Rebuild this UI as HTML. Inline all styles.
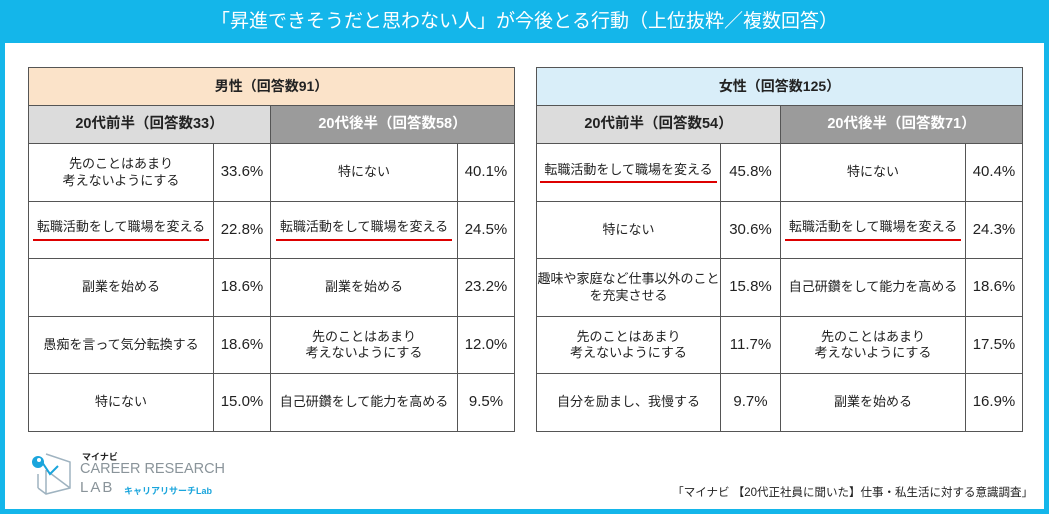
<!DOCTYPE html><html><head><meta charset="utf-8"><style>
*{margin:0;padding:0;box-sizing:border-box}
body{width:1049px;height:514px;overflow:hidden;background:#fff;font-family:"Liberation Sans","Noto Sans CJK JP",sans-serif;position:relative}
.frame{position:absolute;left:0;top:0;width:1049px;height:514px;border:5px solid #14b6ea;border-top:none}
.title{position:absolute;left:0;top:0;width:1049px;height:43px;background:#14b6ea;color:#fff;font-size:19px;text-align:center;line-height:43px}
.c{position:absolute;border:1px solid #555;display:flex;align-items:center;justify-content:center;text-align:center;font-size:13px;color:#222;line-height:1.25}
.h1{font-size:14px;font-weight:bold}
.h2{font-size:14.5px;font-weight:bold}
.p{font-size:15px}
.u{border-bottom:2px solid #d00;padding:0 4px 3px}
</style></head><body>
<div class="title">「昇進できそうだと思わない人」が今後とる行動（上位抜粋／複数回答）</div>
<div class="frame"></div>

<div class="c h1" style="left:28px;top:67px;width:487px;height:39px;background:#fbe3c9">男性（回答数91）</div>
<div class="c h2" style="left:28px;top:105px;width:243px;height:39px;background:#dcdcdc">20代前半（回答数33）</div>
<div class="c h2" style="left:270px;top:105px;width:245px;height:39px;background:#9b9b9b;color:#fff">20代後半（回答数58）</div>

<div class="c h1" style="left:536px;top:67px;width:487px;height:39px;background:#d9eef9">女性（回答数125）</div>
<div class="c h2" style="left:536px;top:105px;width:245px;height:39px;background:#dcdcdc">20代前半（回答数54）</div>
<div class="c h2" style="left:780px;top:105px;width:243px;height:39px;background:#9b9b9b;color:#fff">20代後半（回答数71）</div>

<div class="c" style="left:28px;top:143px;width:186px;height:59px">先のことはあまり<br>考えないようにする</div><div class="c p" style="left:213px;top:143px;width:58px;height:59px">33.6%</div>
<div class="c" style="left:28px;top:201px;width:186px;height:58px"><span class="u">転職活動をして職場を変える</span></div><div class="c p" style="left:213px;top:201px;width:58px;height:58px">22.8%</div>
<div class="c" style="left:28px;top:258px;width:186px;height:59px">副業を始める</div><div class="c p" style="left:213px;top:258px;width:58px;height:59px">18.6%</div>
<div class="c" style="left:28px;top:316px;width:186px;height:58px">愚痴を言って気分転換する</div><div class="c p" style="left:213px;top:316px;width:58px;height:58px">18.6%</div>
<div class="c" style="left:28px;top:373px;width:186px;height:59px">特にない</div><div class="c p" style="left:213px;top:373px;width:58px;height:59px">15.0%</div>

<div class="c" style="left:270px;top:143px;width:188px;height:59px">特にない</div><div class="c p" style="left:457px;top:143px;width:58px;height:59px">40.1%</div>
<div class="c" style="left:270px;top:201px;width:188px;height:58px"><span class="u">転職活動をして職場を変える</span></div><div class="c p" style="left:457px;top:201px;width:58px;height:58px">24.5%</div>
<div class="c" style="left:270px;top:258px;width:188px;height:59px">副業を始める</div><div class="c p" style="left:457px;top:258px;width:58px;height:59px">23.2%</div>
<div class="c" style="left:270px;top:316px;width:188px;height:58px">先のことはあまり<br>考えないようにする</div><div class="c p" style="left:457px;top:316px;width:58px;height:58px">12.0%</div>
<div class="c" style="left:270px;top:373px;width:188px;height:59px">自己研鑽をして能力を高める</div><div class="c p" style="left:457px;top:373px;width:58px;height:59px">9.5%</div>

<div class="c" style="left:536px;top:143px;width:185px;height:59px"><span class="u">転職活動をして職場を変える</span></div><div class="c p" style="left:720px;top:143px;width:61px;height:59px">45.8%</div>
<div class="c" style="left:536px;top:201px;width:185px;height:58px">特にない</div><div class="c p" style="left:720px;top:201px;width:61px;height:58px">30.6%</div>
<div class="c" style="left:536px;top:258px;width:185px;height:59px">趣味や家庭など仕事以外のこと<br>を充実させる</div><div class="c p" style="left:720px;top:258px;width:61px;height:59px">15.8%</div>
<div class="c" style="left:536px;top:316px;width:185px;height:58px">先のことはあまり<br>考えないようにする</div><div class="c p" style="left:720px;top:316px;width:61px;height:58px">11.7%</div>
<div class="c" style="left:536px;top:373px;width:185px;height:59px">自分を励まし、我慢する</div><div class="c p" style="left:720px;top:373px;width:61px;height:59px">9.7%</div>

<div class="c" style="left:780px;top:143px;width:186px;height:59px">特にない</div><div class="c p" style="left:965px;top:143px;width:58px;height:59px">40.4%</div>
<div class="c" style="left:780px;top:201px;width:186px;height:58px"><span class="u">転職活動をして職場を変える</span></div><div class="c p" style="left:965px;top:201px;width:58px;height:58px">24.3%</div>
<div class="c" style="left:780px;top:258px;width:186px;height:59px">自己研鑽をして能力を高める</div><div class="c p" style="left:965px;top:258px;width:58px;height:59px">18.6%</div>
<div class="c" style="left:780px;top:316px;width:186px;height:58px">先のことはあまり<br>考えないようにする</div><div class="c p" style="left:965px;top:316px;width:58px;height:58px">17.5%</div>
<div class="c" style="left:780px;top:373px;width:186px;height:59px">副業を始める</div><div class="c p" style="left:965px;top:373px;width:58px;height:59px">16.9%</div>

<svg style="position:absolute;left:28px;top:448px" width="50" height="50" viewBox="0 0 50 50">
<path d="M18 6 L42 14 L42 40 L18 46 L10 40 M10 26 L10 40 M18 22 L42 40 M18 22 L18 46" fill="none" stroke="#9fb3c0" stroke-width="1.5"/>
<path d="M14 14 L22 26 L30 18" fill="none" stroke="#1aa5dc" stroke-width="2"/>
<circle cx="10" cy="14" r="6" fill="#1aa5dc"/><circle cx="11" cy="12" r="2" fill="#fff"/>
</svg>
<div style="position:absolute;left:82px;top:450px;font-size:9px;font-weight:bold;color:#222">マイナビ</div>
<div style="position:absolute;left:80px;top:461px;font-size:14.5px;color:#8a949a">CAREER RESEARCH</div>
<div style="position:absolute;left:80px;top:479px;font-size:15px;color:#8a949a;letter-spacing:2px">LAB</div>
<div style="position:absolute;left:124px;top:484px;font-size:9px;font-weight:bold;color:#1aa5dc">キャリアリサーチLab</div>
<div style="position:absolute;right:16px;top:484px;font-size:11.5px;color:#222">「マイナビ 【20代正社員に聞いた】仕事・私生活に対する意識調査」</div>
</body></html>
